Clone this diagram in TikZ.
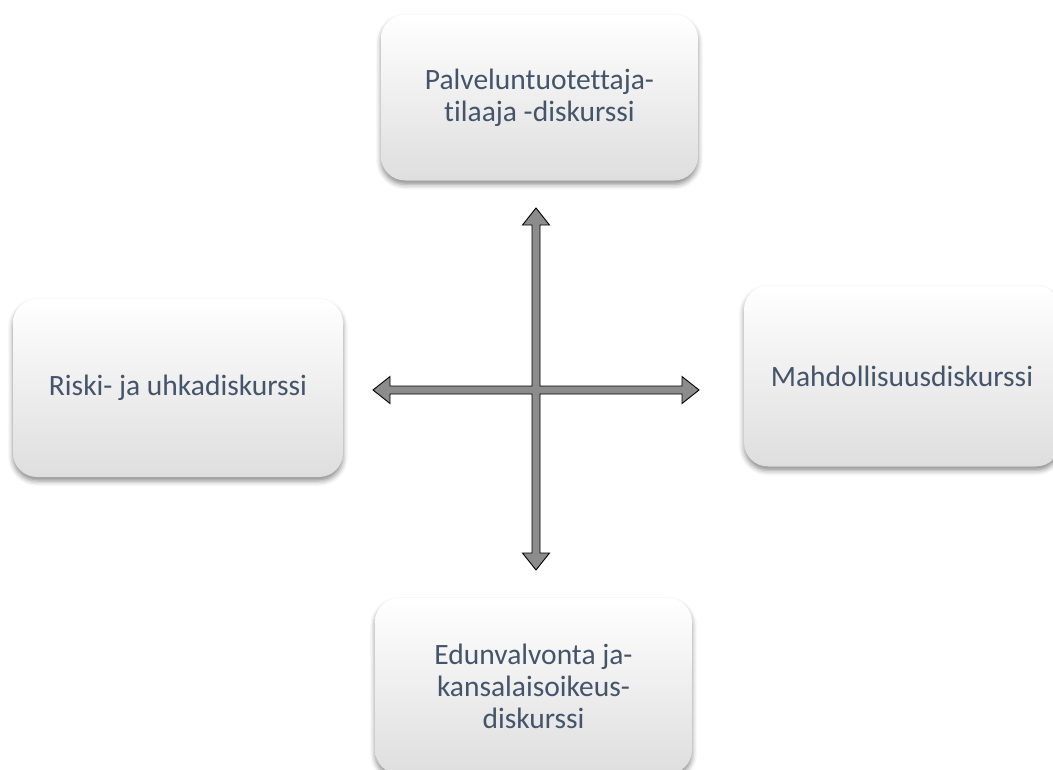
\documentclass[tikz,border=0pt]{standalone}
\usepackage{fontspec}
\setmainfont{Carlito}[Ligatures=NoCommon]
\usepackage{tikz}
\usetikzlibrary{calc,positioning,shadows.blur}
\definecolor{disctext}{HTML}{44546A}

\begin{document}
\begin{tikzpicture}[x=1pt,y=-1pt,
  disc/.style={rounded corners=24pt,minimum width=317pt,minimum height=166pt,
    top color=white,middle color=white,bottom color=black!13,
    blur shadow={shadow xshift=0pt,shadow yshift=-4pt,shadow blur radius=5pt,shadow opacity=45},
    text=disctext,font=\fontsize{29.5}{32}\selectfont,align=center,inner sep=0pt},
  arrowfill/.style={fill=black!45,draw=black,line width=0.9pt,line join=miter}]
\path[use as bounding box] (0,0) rectangle (1053,769);
\clip (0,0) rectangle (1053,769);
\node[disc] (tilaaja) at (539.5,97.5) {Palveluntuotettaja-\\tilaaja -diskurssi};
\node[disc,minimum width=330pt,minimum height=178pt] (riski) at (178,388) {Riski- ja uhkadiskurssi};
\node[disc,minimum width=316pt,minimum height=181pt] (mahd) at (902,376) {Mahdollisuusdiskurssi};
\node[disc,minimum height=176pt] (edunv) at (533.5,686) {Edunvalvonta ja-\\kansalaisoikeus-\\diskurssi};
\coordinate (c) at (536,390);
% cross of double arrows
\filldraw[arrowfill] (c) ++(0,-182) -- ++(13.5,17) -- ++(-9.5,0) -- ++(0,161)
  -- ++(142,0) -- ++(0,-9.5) -- ++(17,13.5) -- ++(-17,13.5) -- ++(0,-9.5)
  -- ++(-142,0) -- ++(0,159) -- ++(9.5,0) -- ++(-13.5,17) -- ++(-13.5,-17)
  -- ++(9.5,0) -- ++(0,-159) -- ++(-142,0) -- ++(0,9.5) -- ++(-17,-13.5)
  -- ++(17,-13.5) -- ++(0,9.5) -- ++(142,0) -- ++(0,-161) -- ++(-9.5,0) -- cycle;
\end{tikzpicture}
\end{document}
